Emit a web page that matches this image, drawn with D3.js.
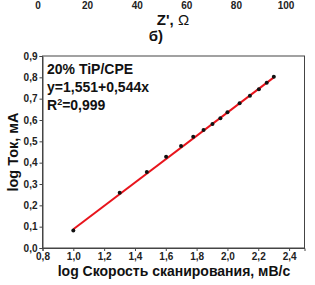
<!DOCTYPE html>
<html><head><meta charset="utf-8">
<script src="https://cdn.jsdelivr.net/npm/d3@7"></script>
<style>body{margin:0;background:#fff}svg{display:block}text{font-family:"Liberation Sans",Arial,sans-serif;font-weight:bold}</style>
</head><body>
<script>
const logRate = [1.0, 1.301, 1.477, 1.602, 1.699, 1.778, 1.845, 1.903, 1.954, 2.0, 2.079, 2.146, 2.204, 2.255, 2.301];
const logCurrent = [0.082, 0.259, 0.356, 0.428, 0.478, 0.522, 0.553, 0.581, 0.608, 0.636, 0.678, 0.714, 0.744, 0.775, 0.803];
const fitX = [1.0, 2.301];
const fitY = [0.088, 0.800];
const xTicks = [0.8, 1.0, 1.2, 1.4, 1.6, 1.8, 2.0, 2.2, 2.4];
const yTicks = [0.0, 0.1, 0.2, 0.3, 0.4, 0.5, 0.6, 0.7, 0.8, 0.9];
const topTicks = [0, 20, 40, 60, 80, 100];
const notes = ["20% TiP/CPE", "y=1,551+0,544x", "R2=0,999"];

const W = 315, H = 285;
const svg = d3.select("body").append("svg").attr("width", W).attr("height", H);
const L = 42.5, R = 304.5, T = 56, B = 248;
const x = d3.scaleLinear().domain([0.8, 2.5]).range([L, R]);
const y = d3.scaleLinear().domain([0, 0.9]).range([B, T]);
const fmt = d => d3.format(".1f")(d).replace(".", ",");

// top remnant axis labels from upper chart
const xt = d3.scaleLinear().domain([0, 100]).range([38, 286]);
svg.selectAll(".tt").data(topTicks).enter().append("text")
  .attr("x", d => xt(d)).attr("y", 8.5).attr("text-anchor", "middle")
  .attr("font-size", 10).attr("fill", "#222").text(d => d);
svg.append("text").attr("x", 173).attr("y", 25).attr("text-anchor", "middle")
  .attr("font-size", 15).attr("fill", "#111")
  .html("Z', <tspan font-weight='normal'>Ω</tspan>");
svg.append("text").attr("x", 156).attr("y", 41).attr("text-anchor", "middle")
  .attr("font-size", 15).attr("fill", "#111").text("б)");

// frame
svg.append("rect").attr("x", L).attr("y", T).attr("width", R - L).attr("height", B - T)
  .attr("fill", "none").attr("stroke", "#444").attr("stroke-width", 1);

const xa = svg.append("g").attr("transform", `translate(0,${B})`)
  .call(d3.axisBottom(x).tickValues(xTicks).tickFormat(fmt).tickSize(3).tickPadding(2));
const ya = svg.append("g").attr("transform", `translate(${L},0)`)
  .call(d3.axisLeft(y).tickValues(yTicks).tickFormat(fmt).tickSize(3).tickPadding(2));
[xa, ya].forEach(g => {
  g.select(".domain").attr("stroke", "#444");
  g.selectAll(".tick line").attr("stroke", "#444");
  g.selectAll(".tick text").attr("font-size", 10).attr("fill", "#222")
    .attr("font-family", "'Liberation Sans',Arial,sans-serif").attr("font-weight", "bold");
});

// fit line
svg.append("line").attr("x1", x(fitX[0])).attr("y1", y(fitY[0]))
  .attr("x2", x(fitX[1])).attr("y2", y(fitY[1]))
  .attr("stroke", "#e8141c").attr("stroke-width", 2);

// points
svg.selectAll(".pt").data(logRate).enter().append("circle")
  .attr("cx", d => x(d)).attr("cy", (d, i) => y(logCurrent[i])).attr("r", 2)
  .attr("fill", "#111");

// annotations
const ann = svg.append("g").attr("font-size", 14).attr("fill", "#111");
ann.append("text").attr("x", 47).attr("y", 73.5).text(notes[0]);
ann.append("text").attr("x", 47).attr("y", 91.5).text(notes[1]);
ann.append("text").attr("x", 47).attr("y", 110)
  .html("R<tspan dy='-5.5' font-size='9'>2</tspan><tspan dy='5.5'>=0,999</tspan>");

// axis titles
svg.append("text").attr("x", 174).attr("y", 276).attr("text-anchor", "middle")
  .attr("font-size", 14).attr("fill", "#111").text("log Скорость сканирования, мВ/с");
svg.append("text").attr("transform", "translate(18,152) rotate(-90)").attr("text-anchor", "middle")
  .attr("font-size", 14.5).attr("fill", "#111").text("log Ток, мА");
</script>
</body></html>
